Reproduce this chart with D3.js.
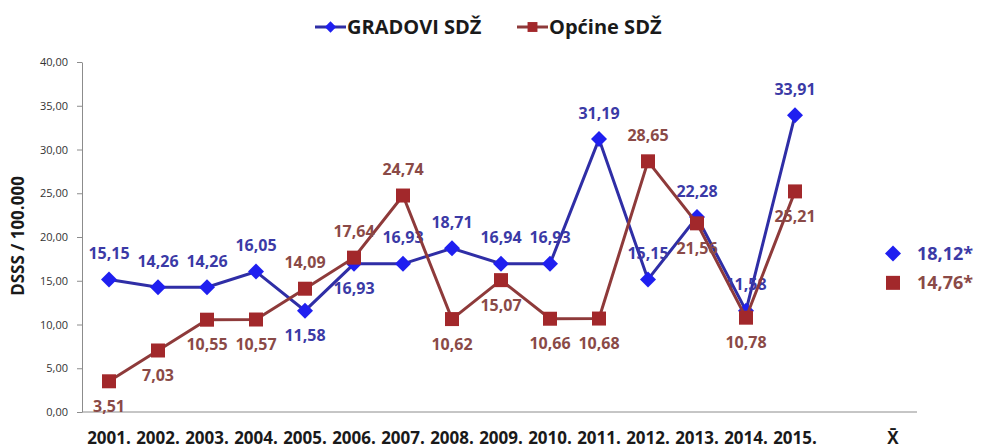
<!DOCTYPE html>
<html>
<head>
<meta charset="utf-8">
<script src="https://cdn.jsdelivr.net/npm/d3@7"></script>
<style>
  body { margin: 0; background: #fff; }
  svg { display: block; font-family: "Open Sans", sans-serif; }
</style>
</head>
<body>
<svg id="chart" width="991" height="448"></svg>
<script>
var years = ["2001.", "2002.", "2003.", "2004.", "2005.", "2006.", "2007.", "2008.",
             "2009.", "2010.", "2011.", "2012.", "2013.", "2014.", "2015."];
var meanLabel = "X\u0304";
var gradovi = [15.15, 14.26, 14.26, 16.05, 11.58, 16.93, 16.93, 18.71, 16.94, 16.93,
               31.19, 15.15, 22.28, 11.58, 33.91];
var opcine = [3.51, 7.03, 10.55, 10.57, 14.09, 17.64, 24.74, 10.62, 15.07, 10.66,
              10.68, 28.65, 21.56, 10.78, 25.21];
var gradoviMean = 18.12;
var opcineMean = 14.76;
var yTicks = [0, 5, 10, 15, 20, 25, 30, 35, 40];

// label placement (above / below marker)
var gradoviPos = ["a","a","a","a","b","b","a","a","a","a","a","a","a","a","a"];
var opcinePos  = ["b","b","b","b","a","a","a","b","b","b","b","a","b","b","b"];

var blue = { line: "#2f2ea6", fill: "#1f1ff0", text: "#3b3aa6", rot: 45, size: 128 };
var brown = { line: "#8e3a3a", fill: "#a2282b", text: "#8a4a47", rot: 0, size: 196 };

var svg = d3.select("#chart");

var x = d3.scalePoint()
    .domain(years.concat(["", meanLabel]))
    .range([109, 893]);

var y = d3.scaleLinear().domain([0, 40]).range([412, 62]);

var comma = function (v) { return d3.format(".2f")(v).replace(".", ","); };

// y axis
var yAxis = svg.append("g")
    .attr("transform", "translate(82,0)")
    .call(d3.axisLeft(y).tickValues(yTicks).tickSize(5).tickSizeOuter(0).tickFormat(comma));
yAxis.select(".domain").attr("stroke", "#8c8c8c");
yAxis.selectAll(".tick line").attr("stroke", "#8c8c8c");
yAxis.selectAll(".tick text")
    .attr("x", -14)
    .attr("fill", "#333")
    .style("font-size", "11px")
    .style("font-family", "Open Sans");

// x axis line
svg.append("line")
    .attr("x1", 82).attr("x2", 917)
    .attr("y1", y(0)).attr("y2", y(0))
    .attr("stroke", "#8c8c8c").attr("stroke-width", 1);

svg.append("g").selectAll("text")
    .data(years.concat([meanLabel]))
    .join("text")
    .attr("x", function (d) { return x(d); })
    .attr("y", 444)
    .attr("text-anchor", "middle")
    .attr("fill", "#1a1a1a")
    .style("font-size", "17px")
    .style("font-weight", "bold")
    .text(function (d) { return d; });

// y title
svg.append("text")
    .attr("transform", "translate(24,236) rotate(-90)")
    .attr("text-anchor", "middle")
    .attr("fill", "#1a1a1a")
    .style("font-size", "17px")
    .style("font-weight", "bold")
    .text("DSSS / 100.000");

var marker = d3.symbol().type(d3.symbolSquare);

function drawSeries(values, pos, col) {
  var g = svg.append("g");
  var line = d3.line()
      .x(function (d, i) { return x(years[i]); })
      .y(function (d) { return y(d); });
  g.append("path")
      .datum(values)
      .attr("d", line)
      .attr("fill", "none")
      .attr("stroke", col.line)
      .attr("stroke-width", 3);
  g.selectAll(".m")
      .data(values)
      .join("path")
      .attr("transform", function (d, i) {
        return "translate(" + x(years[i]) + "," + y(d) + ") rotate(" + col.rot + ")";
      })
      .attr("d", marker.size(col.size)())
      .attr("fill", col.fill);
  g.selectAll(".lbl")
      .data(values)
      .join("text")
      .attr("x", function (d, i) { return x(years[i]); })
      .attr("y", function (d, i) { return y(d) + (pos[i] === "a" ? -26 : 25); })
      .attr("dy", "0.35em")
      .attr("text-anchor", "middle")
      .attr("fill", col.text)
      .style("font-size", "16px")
      .style("font-weight", "bold")
      .text(function (d) { return comma(d); });
}

drawSeries(gradovi, gradoviPos, blue);
drawSeries(opcine, opcinePos, brown);

// means
var means = [
  { v: gradoviMean, col: blue },
  { v: opcineMean, col: brown }
];
var mg = svg.append("g");
mg.selectAll("path")
    .data(means)
    .join("path")
    .attr("transform", function (d) {
      return "translate(" + x(meanLabel) + "," + y(d.v) + ") rotate(" + d.col.rot + ")";
    })
    .attr("d", function (d) { return marker.size(d.col.size)(); })
    .attr("fill", function (d) { return d.col.fill; });
mg.selectAll("text")
    .data(means)
    .join("text")
    .attr("x", x(meanLabel) + 24)
    .attr("y", function (d) { return y(d.v); })
    .attr("dy", "0.35em")
    .attr("fill", function (d) { return d.col.text; })
    .style("font-size", "18px")
    .style("font-weight", "bold")
    .text(function (d) { return comma(d.v) + "*"; });

// legend
var legend = [
  { name: "GRADOVI SDŽ", col: blue, x: 315 },
  { name: "Općine SDŽ", col: brown, x: 517 }
];
var lg = svg.append("g").selectAll("g")
    .data(legend)
    .join("g")
    .attr("transform", function (d) { return "translate(" + d.x + ",27)"; });
lg.append("line")
    .attr("x1", 0).attr("x2", 31)
    .attr("stroke", function (d) { return d.col.line; })
    .attr("stroke-width", 3);
lg.append("path")
    .attr("transform", function (d) { return "translate(15.5,0) rotate(" + d.col.rot + ")"; })
    .attr("d", function (d) { return marker.size(d.col.size * 0.5)(); })
    .attr("fill", function (d) { return d.col.fill; });
lg.append("text")
    .attr("x", 32)
    .attr("dy", "0.35em")
    .attr("fill", "#1a1a1a")
    .style("font-size", "20px")
    .style("font-weight", "bold")
    .text(function (d) { return d.name; });
</script>
</body>
</html>
